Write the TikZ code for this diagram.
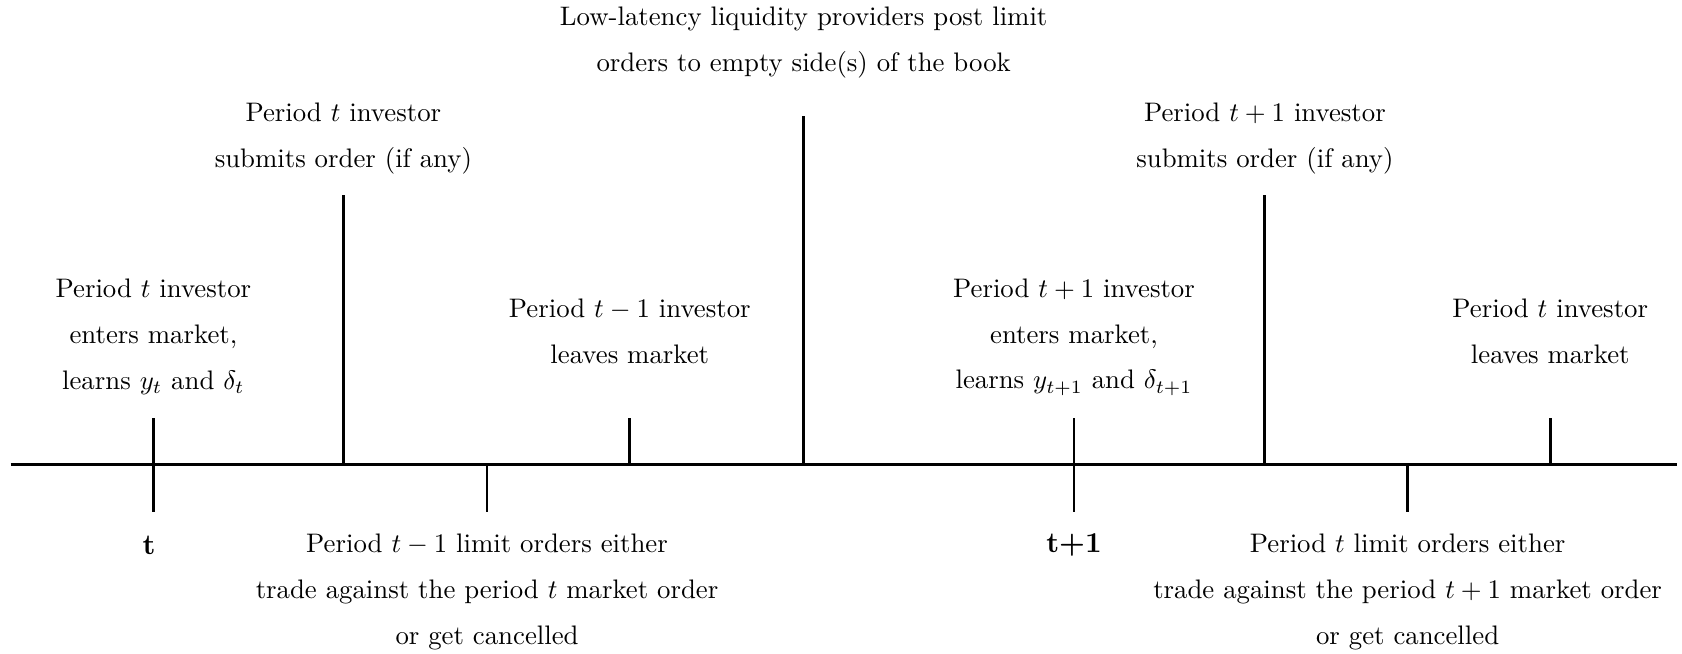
\documentclass[tikz,border=0pt]{standalone}
\usepackage{amsmath,amssymb}
\usepackage{tikz}

\begin{document}
\begin{tikzpicture}[
    event/.style={align=center, font=\linespread{1.43}\selectfont},
    period/.style={font=\fontsize{10.8}{13}\selectfont\bfseries},
    axisline/.style={line width=1.2pt},
    tickline/.style={line width=1.05pt}]
\useasboundingbox (0,-2.474) rectangle (22.07,6.096);

% time axis
\coordinate (L) at (0.14,0);
\coordinate (R) at (22.0,0);
\draw[axisline] (L) -- (R);

% period t
\coordinate (a0) at (2.013,-0.617);
\coordinate (a1) at (2.013,0.617);
\coordinate (b0) at (4.505,0);
\coordinate (b1) at (4.505,3.534);
\coordinate (c0) at (6.391,0);
\coordinate (c1) at (6.391,-0.617);
\coordinate (d0) at (8.264,0);
\coordinate (d1) at (8.264,0.617);
\coordinate (e0) at (10.545,0);
\coordinate (e1) at (10.545,4.576);
% period t+1
\coordinate (f0) at (14.092,-0.617);
\coordinate (f1) at (14.092,0.617);
\coordinate (g0) at (16.597,0);
\coordinate (g1) at (16.597,3.534);
\coordinate (h0) at (18.470,0);
\coordinate (h1) at (18.470,-0.617);
\coordinate (k0) at (20.341,0);
\coordinate (k1) at (20.341,0.617);

\draw[tickline] (a0) -- (a1);
\draw[tickline] (b0) -- (b1);
\draw[tickline] (c0) -- (c1);
\draw[tickline] (d0) -- (d1);
\draw[tickline] (e0) -- (e1);
\draw[tickline] (f0) -- (f1);
\draw[tickline] (g0) -- (g1);
\draw[tickline] (h0) -- (h1);
\draw[tickline] (k0) -- (k1);

\node[period] (per1) at (1.955,-1.055) {t};
\node[period] (per2) at (14.092,-1.055) {t+1};

\node[event] (enter1) at (2.013,1.676) {Period $t$ investor\\ enters market,\\ learns $y_t$ and $\delta_t$};
\node[event] (submit1) at (4.505,4.273) {Period $t$ investor\\ submits order (if any)};
\node[event] (cancel1) at (6.391,-1.668) {Period $t-1$ limit orders either\\ trade against the period $t$ market order\\ or get cancelled};
\node[event] (leave1) at (8.264,1.753) {Period $t-1$ investor\\ leaves market};
\node[event] (post) at (10.545,5.540) {Low-latency liquidity providers post limit\\ orders to empty side(s) of the book};
\node[event] (enter2) at (14.092,1.676) {Period $t+1$ investor\\ enters market,\\ learns $y_{t+1}$ and $\delta_{t+1}$};
\node[event] (submit2) at (16.597,4.273) {Period $t+1$ investor\\ submits order (if any)};
\node[event] (cancel2) at (18.470,-1.668) {Period $t$ limit orders either\\ trade against the period $t+1$ market order\\ or get cancelled};
\node[event] (leave2) at (20.341,1.753) {Period $t$ investor\\ leaves market};
\end{tikzpicture}
\end{document}
